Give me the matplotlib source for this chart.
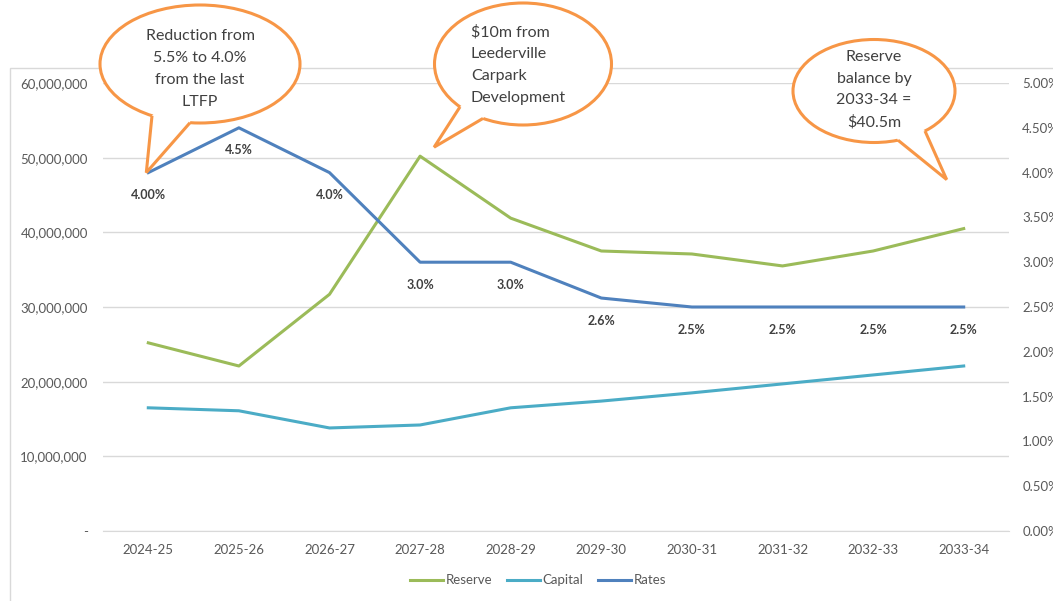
import numpy as np
import matplotlib
matplotlib.use("Agg")
import matplotlib.pyplot as plt
from matplotlib.patches import Ellipse, Polygon, Rectangle
from matplotlib.ticker import FuncFormatter

# data
years = ['2024-25', '2025-26', '2026-27', '2027-28', '2028-29',
         '2029-30', '2030-31', '2031-32', '2032-33', '2033-34']
reserve = [25.2e6, 22.1e6, 31.7e6, 50.2e6, 41.9e6, 37.5e6, 37.1e6, 35.5e6, 37.5e6, 40.5e6]
capital = [16.5e6, 16.1e6, 13.8e6, 14.2e6, 16.5e6, 17.4e6, 18.5e6, 19.7e6, 20.9e6, 22.1e6]
rates = [4.0, 4.5, 4.0, 3.0, 3.0, 2.6, 2.5, 2.5, 2.5, 2.5]
rate_labels = ['4.00%', '4.5%', '4.0%', '3.0%', '3.0%', '2.6%', '2.5%', '2.5%', '2.5%', '2.5%']

callouts = [
    "Reduction from\n5.5% to 4.0%\nfrom the last\nLTFP",
    "$10m from\nLeederville\nCarpark\nDevelopment",
    "Reserve\nbalance by\n2033-34 =\n$40.5m",
]

GREEN = '#9BBB59'
CYAN = '#4BACC6'
BLUE = '#4F81BD'
ORANGE = '#F79646'
GRAY = '#595959'
W, H = 1053, 601

plt.rcParams['font.family'] = ['Lato', 'DejaVu Sans']

fig = plt.figure(figsize=(W / 100, H / 100), dpi=100)
ax = fig.add_axes([103 / W, 1 - 531 / H, 906 / W, 448 / H])
ax2 = ax.twinx()

x = np.arange(len(years))
ax.plot(x, reserve, color=GREEN, lw=2.2, label='Reserve', solid_joinstyle='round')
ax.plot(x, capital, color=CYAN, lw=2.2, label='Capital', solid_joinstyle='round')
ax2.plot(x, rates, color=BLUE, lw=2.2, label='Rates', solid_joinstyle='round')

ax.set_xlim(-0.5, len(years) - 0.5)
ax.set_ylim(0, 60e6)
ax2.set_ylim(0, 5.0)
ax.set_yticks(np.arange(0, 60e6 + 1, 10e6))
ax2.set_yticks(np.arange(0, 5.01, 0.5))
ax.yaxis.set_major_formatter(FuncFormatter(lambda v, p: '-' if v == 0 else f'{v:,.0f}'))
ax2.yaxis.set_major_formatter(FuncFormatter(lambda v, p: f'{v:.2f}%'))
ax.set_xticks(x)
ax.set_xticklabels(years, fontsize=9.5)

ax.grid(axis='y', color='#D9D9D9', lw=1)
ax.set_axisbelow(True)
for a in (ax, ax2):
    for s in a.spines.values():
        s.set_visible(False)
    a.tick_params(length=0, colors=GRAY, labelsize=9.5)
ax.spines['bottom'].set_visible(True)
ax.spines['bottom'].set_color('#D9D9D9')
ax.tick_params(axis='y', pad=11)
ax.tick_params(axis='x', pad=9)
ax2.tick_params(axis='y', pad=9.5)

for xi, r, lab in zip(x, rates, rate_labels):
    ax2.annotate(lab, (xi, r), xytext=(0, -12), textcoords='offset points',
                 ha='center', va='top', fontsize=9, fontweight='bold', color='#404040')

h1, l1 = ax.get_legend_handles_labels()
h2, l2 = ax2.get_legend_handles_labels()
ax.legend(h1 + h2, l1 + l2, loc='center', bbox_to_anchor=(0.48, -0.11), ncol=3,
          frameon=False, labelcolor=GRAY, handlelength=2.5,
          handletextpad=0.2, columnspacing=1.1, fontsize=9.5)

# overlay in pixel coordinates for frame and callouts
ov = fig.add_axes([0, 0, 1, 1], zorder=10)
ov.set_xlim(0, W)
ov.set_ylim(0, H)
ov.axis('off')
ov.patch.set_alpha(0)
fig.patches.append(Rectangle((10 / W, -0.1), 1.1, 1.1 - 68 / H, transform=fig.transFigure,
                             fill=False, edgecolor='#D9D9D9', lw=1, zorder=0))

fig.canvas.draw()


def to_px(axis, xv, yv):
    return axis.transData.transform((xv, yv))


def bubble(cx, cy, w, h, tip, bx1, bx2, text, ha='center', tx=None, ty=None):
    # cy, ty given from the top of the picture
    cy = H - cy
    e = Ellipse((cx, cy), w, h, facecolor='white', edgecolor=ORANGE, lw=2.2, zorder=11)
    ov.add_patch(e)
    base = []
    for bx in (bx1, bx2):
        dy = (h / 2) * np.sqrt(max(0.0, 1 - ((bx - cx) / (w / 2)) ** 2))
        base.append((bx, cy - dy))
    inner = [(cx + 0.85 * (p[0] - cx), cy + 0.85 * (p[1] - cy)) for p in base]
    ov.add_patch(Polygon([inner[0], base[0], tip, base[1], inner[1]], closed=True,
                         facecolor='white', edgecolor='none', zorder=12))
    ov.plot([base[0][0], tip[0], base[1][0]], [base[0][1], tip[1], base[1][1]],
            color=ORANGE, lw=2.2, zorder=13, solid_joinstyle='miter',
            solid_capstyle='butt')
    ov.text(cx if tx is None else tx, cy if ty is None else H - ty, text, ha=ha,
            va='center', fontsize=11.5, color='#404040', linespacing=1.7, zorder=14)


tip1 = to_px(ax2, 0, rates[0]) + np.array([-2, 0])
bubble(200, 64, 200, 118, tip1, 152, 190, callouts[0], ty=69)
tip2 = to_px(ax, 3, reserve[3]) + np.array([14, 9])
bubble(523, 64, 177, 122, tip2, 460, 483, callouts[1], ha='left', tx=471, ty=65)
tip3 = to_px(ax, 9, reserve[9]) + np.array([-17, 49])
bubble(874, 91, 162, 103, tip3, 898, 925, callouts[2], ty=90)

fig.savefig('out.png', dpi=100)
